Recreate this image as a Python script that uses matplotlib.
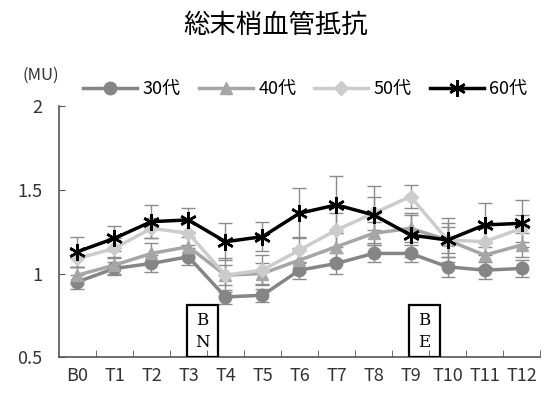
import matplotlib
matplotlib.use("Agg")
import matplotlib.pyplot as plt
from matplotlib.patches import Rectangle

plt.rcParams["font.family"] = ["Noto Sans CJK JP", "DejaVu Sans"]

LABELS = ["B0", "T1", "T2", "T3", "T4", "T5", "T6", "T7", "T8", "T9", "T10", "T11", "T12"]
SERIES = ["30代", "40代", "50代", "60代"]
V30 = [0.95, 1.03, 1.06, 1.10, 0.86, 0.87, 1.02, 1.06, 1.12, 1.12, 1.04, 1.02, 1.03]
V40 = [0.99, 1.05, 1.12, 1.16, 0.99, 1.00, 1.08, 1.16, 1.24, 1.27, 1.20, 1.11, 1.17]
V50 = [1.09, 1.15, 1.27, 1.24, 0.99, 1.02, 1.14, 1.26, 1.36, 1.46, 1.20, 1.19, 1.27]
V60 = [1.13, 1.21, 1.31, 1.32, 1.19, 1.22, 1.36, 1.41, 1.35, 1.23, 1.20, 1.29, 1.30]
E30 = [0.04, 0.04, 0.05, 0.05, 0.04, 0.04, 0.05, 0.06, 0.05, 0.05, 0.06, 0.05, 0.05]
E40 = [0.05, 0.05, 0.06, 0.06, 0.06, 0.06, 0.07, 0.08, 0.07, 0.08, 0.08, 0.07, 0.07]
E50 = [0.05, 0.06, 0.06, 0.07, 0.10, 0.09, 0.08, 0.10, 0.10, 0.07, 0.10, 0.08, 0.08]
E60 = [0.09, 0.075, 0.10, 0.07, 0.11, 0.085, 0.15, 0.17, 0.17, 0.13, 0.13, 0.13, 0.14]
MARKS = [("B", "N", 3), ("B", "E", 9)]   # (top, bottom, category index)

fig = plt.figure(figsize=(5.45, 3.96), dpi=100)
ax = fig.add_axes([0.108, 0.098, 0.883, 0.634])
x = list(range(len(LABELS)))

style = [(V30, E30, "#858585", "o", 9),
         (V40, E40, "#a6a6a6", "^", 9),
         (V50, E50, "#cccccc", "D", 7),
         (V60, E60, "#000000", (6, 2, 0), 12)]
handles = []
for (vals, errs, col, mk, ms), name in zip(style, SERIES):
    ax.errorbar(x, vals, yerr=errs, fmt="none", ecolor="#8c8c8c", elinewidth=1.0,
                capsize=5, capthick=1.0, zorder=2)
    h, = ax.plot(x, vals, color=col, lw=2.5, marker=mk, ms=ms, mfc=col, mec=col,
                 mew=1.8 if mk == (6, 2, 0) else 1, zorder=3, label=name)
    handles.append(h)

for top, bot, i in MARKS:
    ax.add_patch(Rectangle((i - 0.05, 0.5), 0.85, 0.31, fill=False, ec="black", lw=1.6, zorder=5))
    ax.text(i + 0.375, 0.72, top, ha="center", va="center", fontsize=12, family="DejaVu Serif")
    ax.text(i + 0.375, 0.59, bot, ha="center", va="center", fontsize=12, family="DejaVu Serif")

ax.set_xlim(-0.5, len(LABELS) - 0.5)
ax.set_ylim(0.5, 2.0)
ax.set_yticks([0.5, 1, 1.5, 2])
ax.set_yticklabels(["0.5", "1", "1.5", "2"])
ax.set_xticks(x)
ax.set_xticklabels(LABELS)
ax.set_xticks([i + 0.5 for i in x], minor=True)
ax.tick_params(axis="x", which="major", length=0, pad=7, labelsize=13, colors="#333333")
ax.tick_params(axis="x", which="minor", direction="in", length=5, color="#555555")
ax.tick_params(axis="y", direction="in", length=4, color="#555555", labelsize=13,
               labelcolor="#333333", pad=12)
for sp in ("top", "right"):
    ax.spines[sp].set_visible(False)
for sp in ("left", "bottom"):
    ax.spines[sp].set_color("#555555")
    ax.spines[sp].set_linewidth(1.2)

fig.text(0.505, 0.935, "総末梢血管抵抗", ha="center", va="center", fontsize=19)
fig.text(0.075, 0.81, "(MU)", ha="center", va="center", fontsize=12, color="#333333")
fig.legend(handles=handles, loc="center", bbox_to_anchor=(0.56, 0.775), ncol=4,
           frameon=False, handlelength=3.0, columnspacing=1.0, handletextpad=0.3,
           prop={"size": 13})

fig.savefig("out.png", dpi=100)
